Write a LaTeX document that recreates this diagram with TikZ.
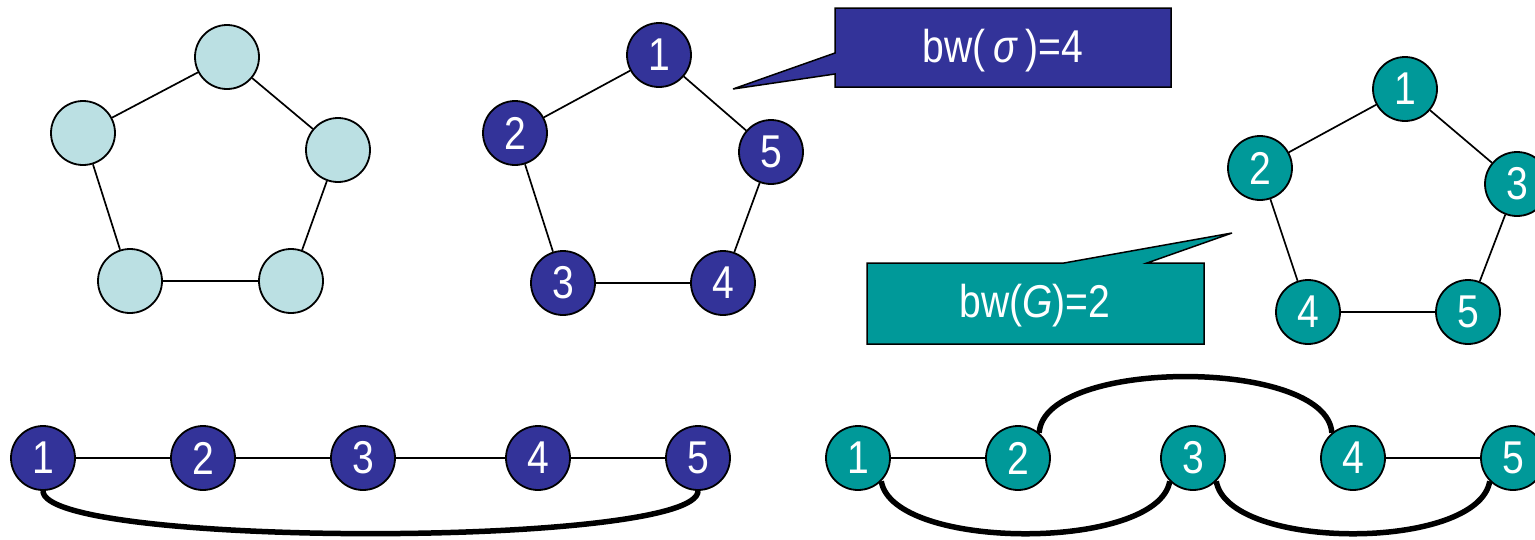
\documentclass[tikz,border=0pt]{standalone}
\usepackage{fontspec}
\setmainfont{Liberation Sans}[FakeStretch=0.85]
\definecolor{vtxblue}{RGB}{51, 51, 153}
\definecolor{vtxteal}{RGB}{0, 153, 153}
\definecolor{vtxpale}{RGB}{187, 224, 227}
\tikzset{
    vtx/.style={
        circle, minimum size=64pt, inner sep=0pt, draw=black, line width=1.8pt,
        text=white, font=\fontsize{46}{50}\selectfont
    },
    bluevtx/.style={vtx, fill=vtxblue},
    tealvtx/.style={vtx, fill=vtxteal},
    palevtx/.style={vtx, fill=vtxpale},
    edge/.style={line width=1.7pt},
    bigedge/.style={line width=5.5pt},
    bluecall/.style={draw=black, line width=1.5pt, fill=vtxblue},
    tealcall/.style={draw=black, line width=1.5pt, fill=vtxteal},
    calltext/.style={text=white, font=\fontsize{46}{50}\selectfont, inner sep=0pt},
}
\begin{document}
\begin{tikzpicture}[x=1pt, y=-1pt]
    \useasboundingbox (0,0) rectangle (1535,539);

    % plain cycle
    \node[palevtx] (c1) at (227, 57) {};
    \node[palevtx] (c2) at (83, 133) {};
    \node[palevtx] (c3) at (338, 150) {};
    \node[palevtx] (c4) at (130, 281) {};
    \node[palevtx] (c5) at (291, 281) {};
    \draw[edge] (c1) -- (c2);
    \draw[edge] (c1) -- (c3);
    \draw[edge] (c2) -- (c4);
    \draw[edge] (c3) -- (c5);
    \draw[edge] (c4) -- (c5);

    % numbering sigma
    \node[bluevtx] (m1) at (659, 55) {1};
    \node[bluevtx] (m2) at (515, 133) {2};
    \node[bluevtx] (m5) at (771, 152) {5};
    \node[bluevtx] (m3) at (563, 283) {3};
    \node[bluevtx] (m4) at (723, 283) {4};
    \draw[edge] (m1) -- (m2);
    \draw[edge] (m1) -- (m5);
    \draw[edge] (m2) -- (m3);
    \draw[edge] (m5) -- (m4);
    \draw[edge] (m3) -- (m4);

    \draw[bluecall] (835,8) -- (1171,8) -- (1171,87) -- (835,87) -- (835,74)
        -- (733,89) -- (835,53) -- cycle;
    \node[calltext] (bwsigma) at (1003, 51) {bw(\,\textit{σ}\,)=4};

    % best numbering
    \node[tealvtx] (r1) at (1405, 89) {1};
    \node[tealvtx] (r2) at (1260, 168) {2};
    \node[tealvtx] (r3) at (1517, 184) {3};
    \node[tealvtx] (r4) at (1308, 312) {4};
    \node[tealvtx] (r5) at (1468, 312) {5};
    \draw[edge] (r1) -- (r2);
    \draw[edge] (r1) -- (r3);
    \draw[edge] (r2) -- (r4);
    \draw[edge] (r3) -- (r5);
    \draw[edge] (r4) -- (r5);

    \draw[tealcall] (867,263) -- (1064,263) -- (1232,233) -- (1147,263)
        -- (1204,263) -- (1204,344) -- (867,344) -- cycle;
    \node[calltext] (bwG) at (1035, 306) {bw(\textit{G})=2};

    % layout of sigma
    \node[bluevtx] (p1) at (43, 458) {1};
    \node[bluevtx] (p2) at (203, 458) {2};
    \node[bluevtx] (p3) at (363, 458) {3};
    \node[bluevtx] (p4) at (538, 458) {4};
    \node[bluevtx] (p5) at (698, 458) {5};
    \draw[edge] (p1) -- (p2);
    \draw[edge] (p2) -- (p3);
    \draw[edge] (p3) -- (p4);
    \draw[edge] (p4) -- (p5);
    \draw[bigedge] (p1.south) .. controls +(0,57) and +(0,57) .. (p5.south);

    % layout of best numbering
    \node[tealvtx] (q1) at (858, 458) {1};
    \node[tealvtx] (q2) at (1018, 458) {2};
    \node[tealvtx] (q3) at (1193, 458) {3};
    \node[tealvtx] (q4) at (1353, 458) {4};
    \node[tealvtx] (q5) at (1513, 458) {5};
    \draw[edge] (q1) -- (q2);
    \draw[edge] (q4) -- (q5);
    \draw[bigedge] (q2.50) .. controls +(5,-75) and +(-5,-75) .. (q4.130);
    \draw[bigedge] (q1.-45) .. controls +(12,70) and +(-12,70) .. (q3.-135);
    \draw[bigedge] (q3.-45) .. controls +(12,70) and +(-12,70) .. (q5.-135);
\end{tikzpicture}
\end{document}
